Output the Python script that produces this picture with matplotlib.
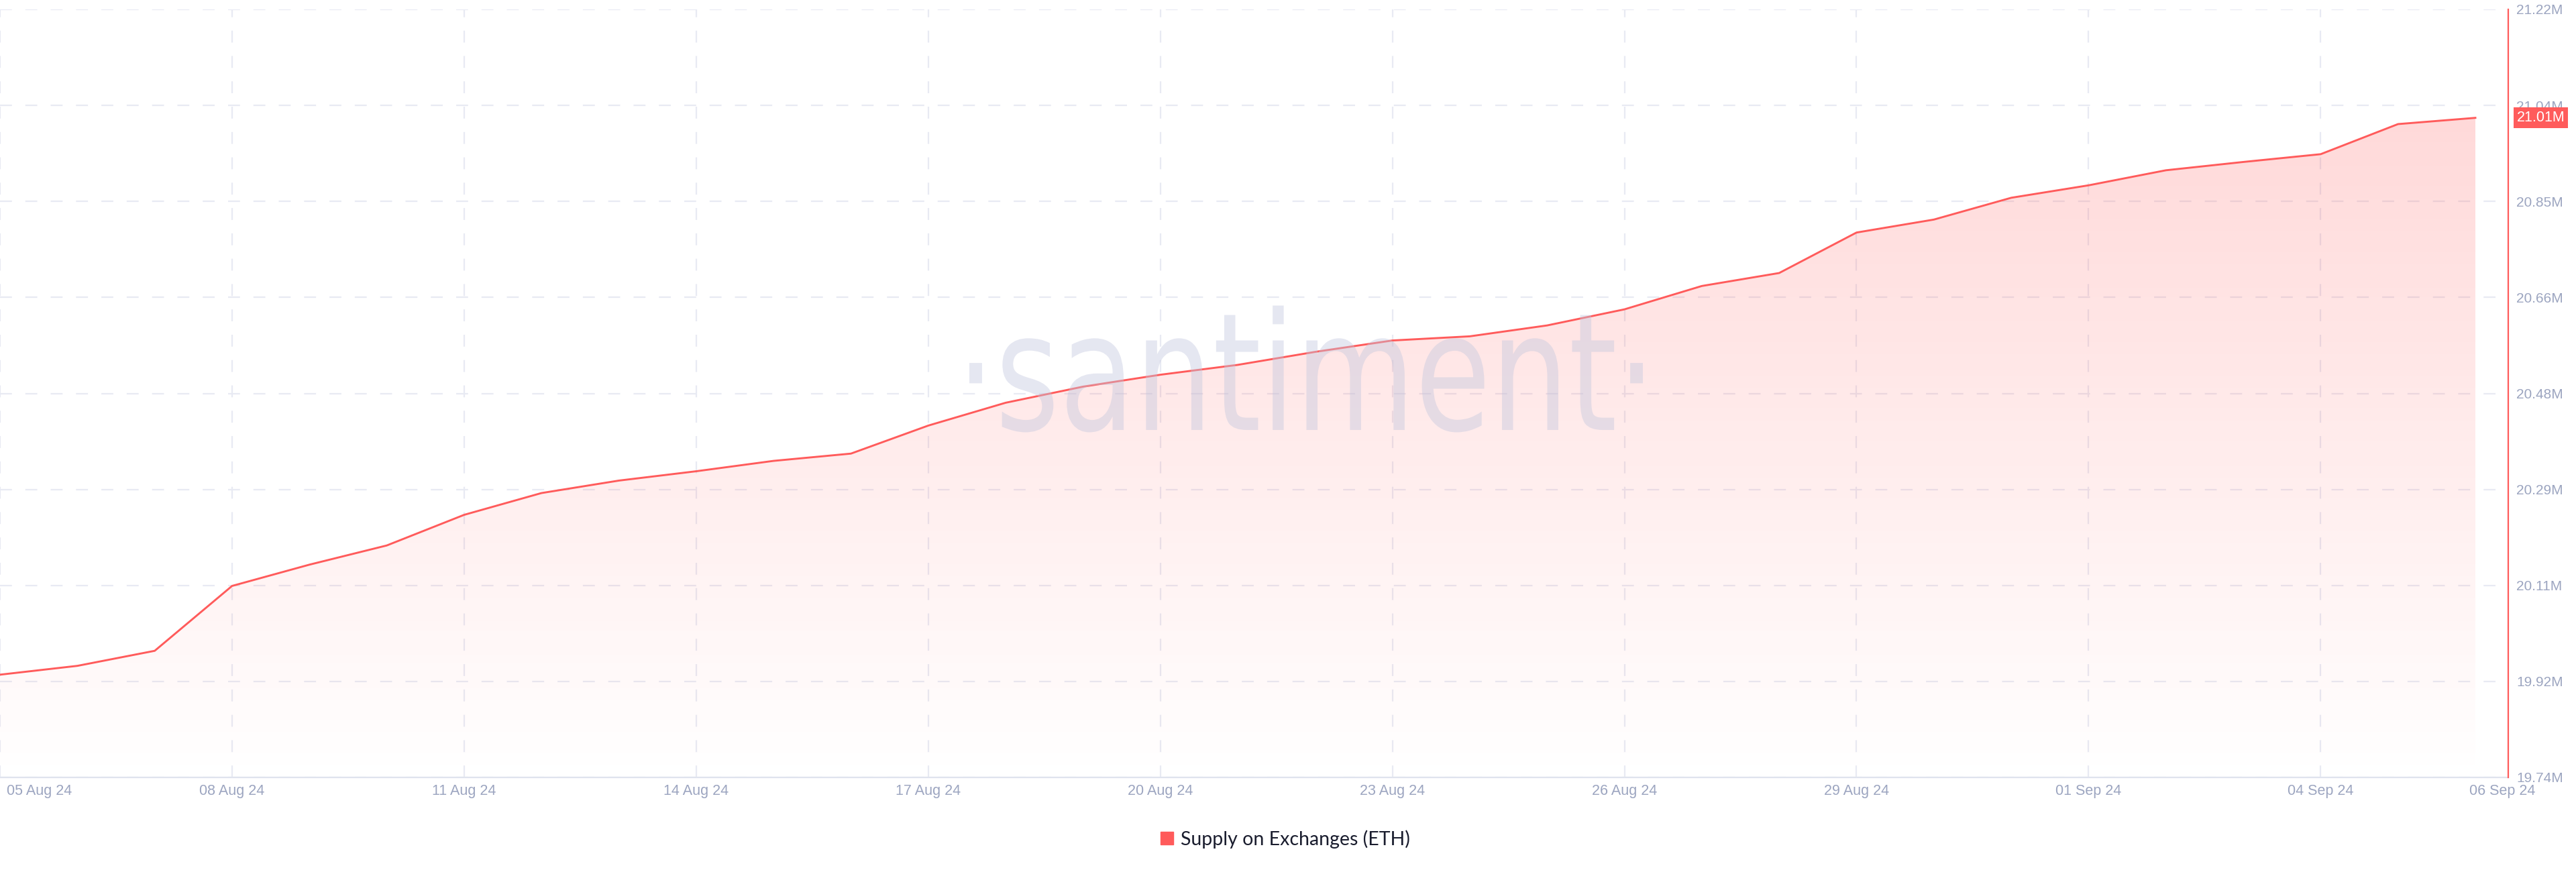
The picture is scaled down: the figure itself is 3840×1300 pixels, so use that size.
import numpy as np
import matplotlib
matplotlib.use('Agg')
import matplotlib.pyplot as plt
from matplotlib.patches import Patch, PathPatch, Polygon
from matplotlib.textpath import TextPath
from matplotlib.font_manager import FontProperties
from matplotlib.transforms import Affine2D, blended_transform_factory

# daily supply of ETH on exchanges, 05 Aug 24 .. 06 Sep 24 (millions)
days = np.arange(33)
supply = [19.938, 19.955, 19.984, 20.109, 20.150, 20.187, 20.246, 20.288, 20.312,
          20.330, 20.350, 20.364, 20.418, 20.462, 20.493, 20.516, 20.535, 20.560,
          20.582, 20.590, 20.611, 20.642, 20.687, 20.712, 20.790, 20.815, 20.857,
          20.881, 20.910, 20.926, 20.941, 20.999, 21.011]

tick_days = [0, 3, 6, 9, 12, 15, 18, 21, 24, 27, 30, 32]
tick_labels = ['05 Aug 24', '08 Aug 24', '11 Aug 24', '14 Aug 24', '17 Aug 24', '20 Aug 24',
               '23 Aug 24', '26 Aug 24', '29 Aug 24', '01 Sep 24', '04 Sep 24', '06 Sep 24']
y_ticks = [19.74, 19.925, 20.11, 20.295, 20.48, 20.665, 20.85, 21.035, 21.22]
y_labels = ['19.74M', '19.92M', '20.11M', '20.29M', '20.48M', '20.66M', '20.85M', '21.04M', '21.22M']

red = '#ff5b5b'
grey = '#9ca5c0'
gridc = '#e8eaf3'
tickfont = 'Liberation Sans'

W, H = 3840, 1300
fig = plt.figure(figsize=(W / 100, H / 100), dpi=100)
ax = fig.add_axes([0, 1 - 1159 / H, 3739 / W, (1159 - 14) / H])

ymin, ymax = 19.74, 21.22
xmax = 32 + 49 / 115.3

# gradient fill under the line
grad = np.zeros((256, 1, 4))
grad[:, 0, 0] = 1.0
grad[:, 0, 1] = 91 / 255
grad[:, 0, 2] = 91 / 255
grad[:, 0, 3] = np.linspace(0.0, 0.27, 256)
im = ax.imshow(grad, extent=[0, 32, ymin, ymax], origin='lower', aspect='auto', zorder=1)
verts = np.column_stack([np.r_[days, days[-1], days[0]], np.r_[supply, ymin, ymin]])
clip = Polygon(verts, closed=True, facecolor='none', edgecolor='none')
ax.add_patch(clip)
im.set_clip_path(clip)

ax.plot(days, supply, color=red, lw=2.1, zorder=4, solid_joinstyle='round')

ax.set_xlim(0, xmax)
ax.set_ylim(ymin, ymax)

# grid
for yv in y_ticks:
    ax.axhline(yv, color=gridc, lw=1.6, dashes=(8, 9), zorder=0)
for xv in tick_days[:-1]:
    ax.axvline(xv, color=gridc, lw=1.6, dashes=(8, 9), zorder=0)

for s in ['top', 'left']:
    ax.spines[s].set_visible(False)
ax.spines['bottom'].set_color('#dfe3ee')
ax.spines['bottom'].set_linewidth(1.6)
ax.spines['right'].set_color(red)
ax.spines['right'].set_linewidth(1.6)
ax.spines['right'].set_zorder(5)

ax.set_xticks([])
ax.yaxis.tick_right()
ax.set_yticks(y_ticks)
ax.set_yticklabels(y_labels, fontsize=15, color=grey, family=tickfont)
ax.tick_params(axis='y', length=0, pad=9)

# x labels
tr = blended_transform_factory(ax.transData, ax.transAxes)
for i, (d, lab) in enumerate(zip(tick_days, tick_labels)):
    ha = 'center'
    xx = d
    if i == 0:
        ha = 'left'
        xx = d + 10 / 115.3
    if i == len(tick_days) - 1:
        xx = d + 40 / 115.3
    ax.text(xx, -21 / 1145, lab, transform=tr, ha=ha, va='center', fontsize=15.5,
            color=grey, family=tickfont, clip_on=False)

# current value tag
ax.text(1.0 + 13 / 3739, supply[-1], '%.2fM' % supply[-1],
        transform=blended_transform_factory(ax.transAxes, ax.transData),
        ha='left', va='center', fontsize=15.5, color='white', family=tickfont, zorder=6,
        bbox=dict(boxstyle='square,pad=0.22', fc=red, ec='none'), clip_on=False)

# watermark
tp = TextPath((0, 0), '\u00b7santiment\u00b7', size=100, prop=FontProperties(family='DejaVu Sans'))
bb = tp.get_extents()
sx = 1004 / bb.width
sy = 189 / bb.height
t = Affine2D().translate(-bb.x0 - bb.width / 2, -bb.y0 - bb.height / 2).scale(sx, sy).translate(1947, H - 550)
wm = PathPatch(tp, facecolor='#c2c7de', edgecolor='none', alpha=0.42, zorder=3)
wm.set_transform(t)
fig.patches.append(wm)
wm.set_figure(fig)

# legend
fig.legend(handles=[Patch(color=red)], labels=['Supply on Exchanges (ETH)'], loc='center',
           bbox_to_anchor=(1916 / W, 1 - 1251 / H), frameon=False,
           handlelength=0.65, handleheight=0.65, handletextpad=0.4,
           prop={'family': 'Lato', 'size': 20.5}, labelcolor='#1a1d2e')

fig.savefig('out.png', dpi=100, facecolor='white')
